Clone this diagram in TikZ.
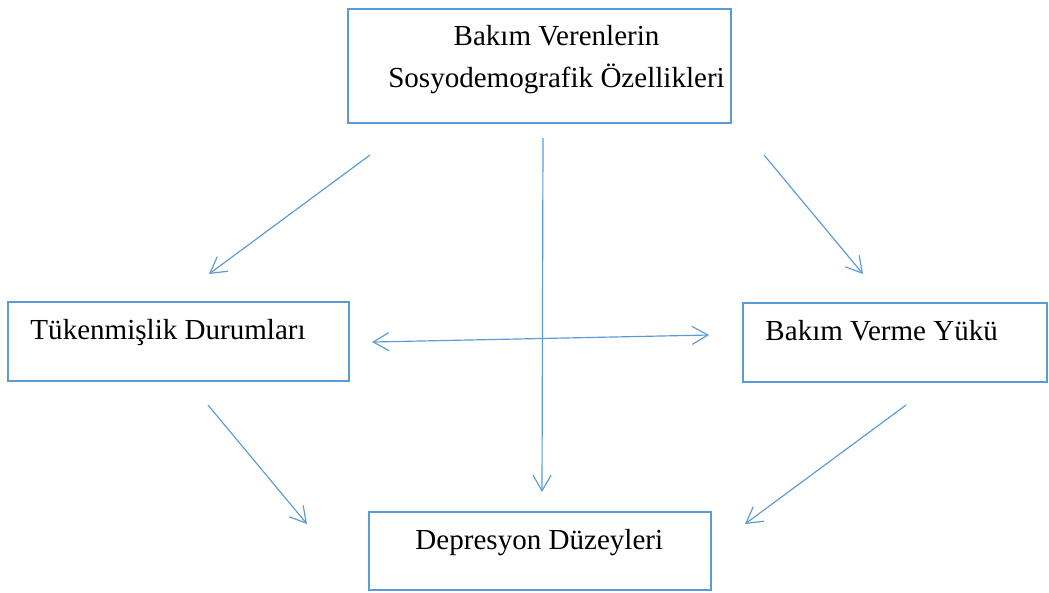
\documentclass[tikz,border=0pt]{standalone}
\usepackage{fontspec}
\setmainfont{Liberation Serif}
\usetikzlibrary{arrows.meta,positioning}
\definecolor{boxblue}{HTML}{5B9BD5}
\tikzstyle{box}=[rectangle,draw=boxblue,line width=1.2pt,inner sep=0pt]
\tikzstyle{boxtext}=[inner sep=0pt,font=\fontsize{12.4}{17.9}\selectfont]
\tikzstyle{link}=[boxblue,line width=0.5pt]

\begin{document}
\begin{tikzpicture}[x=0.015cm,y=-0.015cm,->,>={Straight Barb[length=6.7pt,width=7.7pt]}]
  \useasboundingbox (0,0) rectangle (1049,592);

  \node[box,minimum width=5.745cm,minimum height=1.71cm] (sosyo) at (539.5,66) {};
  \node[boxtext,align=center,anchor=base] (sosyoT) at (556.5,87) {Bakım Verenlerin\\Sosyodemografik Özellikleri};
  \node[box,minimum width=5.115cm,minimum height=1.185cm] (tuken) at (178.5,341.5) {};
  \node[boxtext,anchor=base west] (tukenT) at (30,339) {Tükenmişlik Durumları};
  \node[box,minimum width=4.56cm,minimum height=1.185cm] (yuk) at (895,342.5) {};
  \node[boxtext,anchor=base west] (yukT) at (765,340) {Bakım Verme Yükü};
  \node[box,minimum width=5.13cm,minimum height=1.17cm] (depr) at (540,551) {};
  \node[boxtext,anchor=base west] (deprT) at (415,549) {Depresyon Düzeyleri};

  % arrow ends
  \coordinate (s1) at (370,155);  \coordinate (t1) at (209,274);
  \coordinate (s2) at (543,138);  \coordinate (t2) at (542,492);
  \coordinate (s3) at (764,155);  \coordinate (t3) at (863,274);
  \coordinate (s5) at (208,405);  \coordinate (t5) at (307,524);
  \coordinate (s6) at (906,405);  \coordinate (t6) at (745,524);
  \coordinate (l4) at (372,342);  \coordinate (r4) at (709,335);

  \path[link] (s1) edge (t1)
        (s2) edge (t2)
        (s3) edge (t3)
        (s5) edge (t5)
        (s6) edge (t6);
  \draw[link,<->] (l4) -- (r4);
\end{tikzpicture}
\end{document}
